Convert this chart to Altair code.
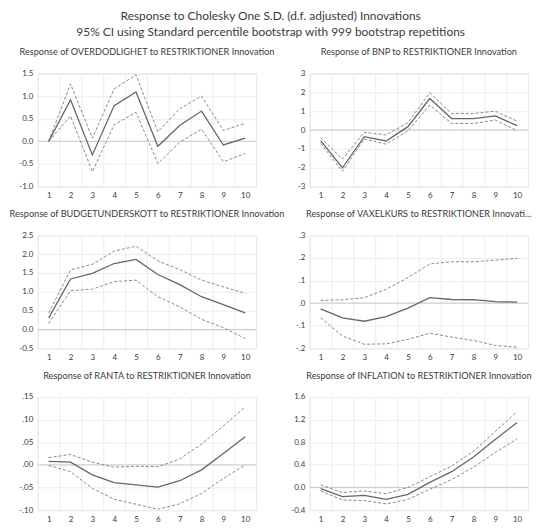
import altair as alt
import pandas as pd

horizons = list(range(1, 11))

overd_mid = [0.0, 0.92, -0.30, 0.79, 1.09, -0.11, 0.35, 0.67, -0.08, 0.07]
overd_up = [0.0, 1.27, 0.07, 1.16, 1.47, 0.21, 0.72, 1.00, 0.24, 0.40]
overd_lo = [0.0, 0.56, -0.67, 0.37, 0.64, -0.49, -0.02, 0.27, -0.45, -0.27]

bnp_mid = [-0.56, -2.00, -0.35, -0.58, 0.18, 1.67, 0.61, 0.61, 0.75, 0.23]
bnp_up = [-0.40, -1.54, -0.12, -0.26, 0.39, 1.98, 0.88, 0.88, 1.00, 0.47]
bnp_lo = [-0.70, -2.19, -0.47, -0.75, -0.04, 1.32, 0.35, 0.35, 0.53, -0.04]

budget_mid = [0.31, 1.34, 1.49, 1.75, 1.86, 1.46, 1.19, 0.87, 0.66, 0.44]
budget_up = [0.44, 1.58, 1.73, 2.08, 2.21, 1.82, 1.59, 1.31, 1.13, 0.96]
budget_lo = [0.16, 1.03, 1.07, 1.27, 1.31, 0.87, 0.60, 0.27, 0.05, -0.24]

vax_mid = [-0.025, -0.065, -0.080, -0.060, -0.022, 0.024, 0.016, 0.015, 0.007, 0.004]
vax_up = [0.012, 0.015, 0.024, 0.061, 0.113, 0.173, 0.183, 0.183, 0.190, 0.198]
vax_lo = [-0.065, -0.145, -0.182, -0.180, -0.160, -0.133, -0.150, -0.165, -0.187, -0.195]

ranta_mid = [0.008, 0.006, -0.022, -0.039, -0.044, -0.049, -0.035, -0.011, 0.025, 0.062]
ranta_up = [0.016, 0.023, 0.006, -0.005, -0.003, -0.004, 0.013, 0.046, 0.086, 0.128]
ranta_lo = [-0.001, -0.015, -0.052, -0.076, -0.087, -0.098, -0.086, -0.063, -0.030, 0.000]

infl_mid = [-0.02, -0.16, -0.14, -0.21, -0.12, 0.09, 0.28, 0.54, 0.85, 1.15]
infl_up = [0.05, -0.09, -0.06, -0.11, 0.00, 0.19, 0.38, 0.64, 0.99, 1.34]
infl_lo = [-0.06, -0.22, -0.23, -0.29, -0.21, -0.03, 0.14, 0.36, 0.62, 0.86]

FONT = "Lato"
TXT = "#3a3a3a"
GRID = "#ececec"

fmt1 = "replace(format(datum.value, '.1f'), '\u2212', '-')"
fmt0 = "replace(format(datum.value, 'd'), '\u2212', '-')"
fmtdot1 = "replace(replace(format(datum.value, '.1f'), '0.', '.'), '\u2212', '-')"
fmtdot2 = "replace(replace(format(datum.value, '.2f'), '0.', '.'), '\u2212', '-')"

panels = [
    ("Response of OVERDODLIGHET to RESTRIKTIONER Innovation", overd_mid, overd_up, overd_lo,
     [-1.0, 1.5], [-1.0, -0.5, 0.0, 0.5, 1.0, 1.5], fmt1, False),
    ("Response of BNP to RESTRIKTIONER Innovation", bnp_mid, bnp_up, bnp_lo,
     [-3, 3], [-3, -2, -1, 0, 1, 2, 3], fmt0, True),
    ("Response of BUDGETUNDERSKOTT to RESTRIKTIONER Innovation", budget_mid, budget_up, budget_lo,
     [-0.5, 2.5], [-0.5, 0.0, 0.5, 1.0, 1.5, 2.0, 2.5], fmt1, False),
    ("Response of VAXELKURS to RESTRIKTIONER Innovation", vax_mid, vax_up, vax_lo,
     [-0.2, 0.3], [-0.2, -0.1, 0.0, 0.1, 0.2, 0.3], fmtdot1, True),
    ("Response of RANTA to RESTRIKTIONER Innovation", ranta_mid, ranta_up, ranta_lo,
     [-0.10, 0.15], [-0.10, -0.05, 0.0, 0.05, 0.10, 0.15], fmtdot2, False),
    ("Response of INFLATION to RESTRIKTIONER Innovation", infl_mid, infl_up, infl_lo,
     [-0.4, 1.6], [-0.4, 0.0, 0.4, 0.8, 1.2, 1.6], fmt1, True),
]

W = 220
H = 114


def make_panel(title, mid, up, lo, domain, ticks, label_expr, right):
    df = pd.DataFrame({
        "h": horizons * 3,
        "v": mid + up + lo,
        "s": ["mid"] * 10 + ["upper"] * 10 + ["lower"] * 10,
    })
    x = alt.X("h:O", title=None,
              scale=alt.Scale(paddingInner=0, paddingOuter=0),
              axis=alt.Axis(labelAngle=0, tickBand="extent", grid=True, ticks=False,
                            domain=False, gridColor=GRID, labelFontSize=8,
                            labelPadding=5, labelColor=TXT, labelFont=FONT,
                            labelOverlap=False))
    yscale = alt.Scale(domain=domain, nice=False, zero=False)
    yaxis = alt.Axis(values=ticks, labelExpr=label_expr, grid=True, gridColor=GRID,
                     ticks=False, domain=False, labelFontSize=8, labelPadding=5,
                     labelColor=TXT, labelFont=FONT, labelOverlap=False,
                     labelFlush=False)
    y = alt.Y("v:Q", title=None, scale=yscale, axis=yaxis)
    base = alt.Chart(df)
    zero = alt.Chart(pd.DataFrame({"z": [0]})).mark_rule(color="#cccccc", strokeWidth=1).encode(
        y=alt.Y(datum=0, title=None, scale=yscale, axis=yaxis))
    bands = base.transform_filter("datum.s != 'mid'").mark_line(
        strokeDash=[3, 2], strokeWidth=0.9, color="#7a7a7a").encode(x=x, y=y, detail="s:N")
    midl = base.transform_filter("datum.s == 'mid'").mark_line(
        strokeWidth=1.3, color="#666666").encode(x=x, y=y)
    tparams = dict(fontSize=9.2, fontWeight="normal", font=FONT, color=TXT,
                   anchor="middle", offset=12)
    if right:
        tparams["limit"] = 230
    return alt.layer(zero, bands, midl).properties(
        width=W, height=H, title=alt.Title(title, **tparams))


charts = [make_panel(*p) for p in panels]

chart = alt.concat(
    *charts, columns=2, spacing=alt.RowColnumber(row=49, column=54), bounds="flush"
).properties(
    title=alt.Title(["Response to Cholesky One S.D. (d.f. adjusted) Innovations",
                     "95% CI using Standard percentile bootstrap with 999 bootstrap repetitions"],
                    fontSize=12, fontWeight="normal", font=FONT, color=TXT,
                    anchor="middle", lineHeight=16, offset=9)
).configure_view(stroke=None).configure(padding=0)

chart.save("out.html", embed_options={"renderer": "svg", "actions": False})
